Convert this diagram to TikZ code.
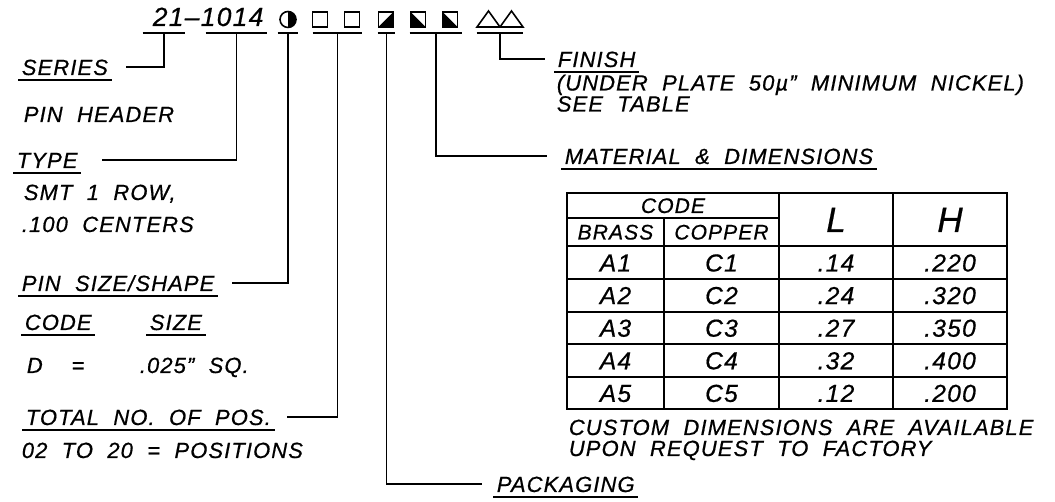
\documentclass[tikz,border=0pt]{standalone}
\usepackage{fontspec}
\setmainfont{Liberation Sans}[LetterSpace=5,WordSpace=2,ItalicFeatures={FakeBold=0.6}]

\begin{document}
\begin{tikzpicture}[
    x=0.02cm, y=-0.02cm,
    txt/.style={inner xsep=2pt, inner ysep=0pt, anchor=base west, font=\itshape\fontsize{12.5}{14}\selectfont},
    cell/.style={inner sep=0pt, anchor=base, font=\itshape\fontsize{14}{16}\selectfont},
    head/.style={inner sep=0pt, anchor=base, font=\itshape\fontsize{12}{14}\selectfont},
    big/.style={inner sep=0pt, anchor=base, font=\itshape\fontsize{20}{22}\selectfont},
    lead/.style={line width=1.1pt},
    grid/.style={line width=1.1pt},
    sym/.style={line width=0.9pt, line join=miter},
    ubar/.style={inner sep=0pt, minimum height=0pt, minimum width=#1*0.02cm}
]
\useasboundingbox (0,0) rectangle (1055,502);

% Part number and code marks
\node[txt, font=\itshape\fontsize{15}{17}\selectfont] (pn) at (149,26) {21--1014};
\foreach \n/\x/\w in {m21/164/42, m1014/236.5/61, mpin/288/20, mpos/337.5/49, mpack/386.5/17, mmat/436/52, mfin/500/46} {
  \node[ubar=\w] (\n) at (\x,33) {};
  \draw[lead] (\n.west) -- (\n.east);
}

% Symbols
\draw[sym] (288,19.5) circle (8);
\fill (288,11.5) arc[start angle=-90, end angle=90, radius=8] -- cycle;
\draw[sym] (312.5,12) rectangle (327.5,27);
\draw[sym] (344.5,12) rectangle (359.5,27);
\draw[sym] (378.5,12) rectangle (393.5,27);
\fill (378.5,27) -- (393.5,12) -- (393.5,27) -- cycle;
\draw[sym] (410.5,12) rectangle (425.5,27);
\fill (410.5,12) -- (425.5,27) -- (410.5,27) -- cycle;
\draw[sym] (442.5,12) rectangle (457.5,27);
\fill (442.5,12) -- (457.5,27) -- (442.5,27) -- cycle;
\draw[sym] (477,27) -- (488.5,11) -- (500,27) -- cycle;
\draw[sym] (500,27) -- (511.5,11) -- (523,27) -- cycle;

% Left labels
\node[txt] (series) at (18,75) {SERIES};
\node[txt] (hdr) at (20,122) {PIN HEADER};
\node[txt] (type) at (13,168) {TYPE};
\node[txt] (smt) at (20,200) {SMT 1 ROW,};
\node[txt] (ctr) at (18,232) {.100 CENTERS};
\node[txt] (pinsize) at (18,291) {PIN SIZE/SHAPE};
\node[txt] (code) at (21,330) {CODE};
\node[txt] (size) at (146,330) {SIZE};
\node[txt] (dd) at (23,373) {D \ =};
\node[txt] (dsq) at (136,373) {.025" SQ.};
\node[txt] (totpos) at (22,425) {TOTAL NO. OF POS.};
\node[txt] (range) at (18,458) {02 TO 20 = POSITIONS};

% Right labels
\node[txt] (fin) at (554,67) {FINISH};
\node[txt] (plate) at (553,90.5) {(UNDER PLATE 50µ" MINIMUM NICKEL)};
\node[txt] (see) at (553,111.5) {SEE TABLE};
\node[txt] (mat) at (561,164) {MATERIAL \& DIMENSIONS};
\node[txt] (cust1) at (565,435) {CUSTOM DIMENSIONS ARE AVAILABLE};
\node[txt] (cust2) at (565,456) {UPON REQUEST TO FACTORY};
\node[txt] (pack) at (493,492) {PACKAGING};

% Underlines
\foreach \n in {series,type,pinsize,code,size,totpos,fin,mat,pack}
  \draw[lead] ([yshift=-3pt]\n.base west) -- ([yshift=-3pt]\n.base east);

% Leaders
\draw[lead] (m21.center) |- ([xshift=8pt]series.east);
\draw[lead] (m1014.center) |- ([xshift=12pt]type.east);
\draw[lead] (mpin.center) |- ([xshift=8pt]pinsize.east);
\draw[lead] (mpos.center) |- ([xshift=7pt]totpos.east);
\draw[lead] (mpack.center) |- ([xshift=-6pt]pack.west);
\draw[lead] (mmat.center) |- ([xshift=-8pt]mat.west);
\draw[lead] (mfin.center) |- ([xshift=-5pt]fin.west);

% Table
\draw[grid] (567,193) rectangle (1007,409);
\draw[grid] (567,218) -- (779,218);
\draw[grid] (567,246) -- (1007,246);
\foreach \y in {279,312,344,377}
  \draw[grid] (567,\y) -- (1007,\y);
\draw[grid] (664,218) -- (664,409);
\foreach \x in {779,893}
  \draw[grid] (\x,193) -- (\x,409);

\node[head] (hcode) at (673,213) {CODE};
\node[head] (hbrass) at (615.5,239.5) {BRASS};
\node[head] (hcopper) at (721.5,239.5) {COPPER};
\node[big] (hl) at (836,232) {L};
\node[big] (hh) at (950,232) {H};

\foreach \b/\c/\l/\h [count=\i] in {A1/C1/.14/.220, A2/C2/.24/.320, A3/C3/.27/.350, A4/C4/.32/.400, A5/C5/.12/.200} {
  \pgfmathsetmacro\yc{262.5+32.6*(\i-1)+9}
  \node[cell] (b\i) at (615.5,\yc) {\b};
  \node[cell] (c\i) at (721.5,\yc) {\c};
  \node[cell] (l\i) at (836,\yc) {\l};
  \node[cell] (h\i) at (950,\yc) {\h};
}
\end{tikzpicture}
\end{document}
